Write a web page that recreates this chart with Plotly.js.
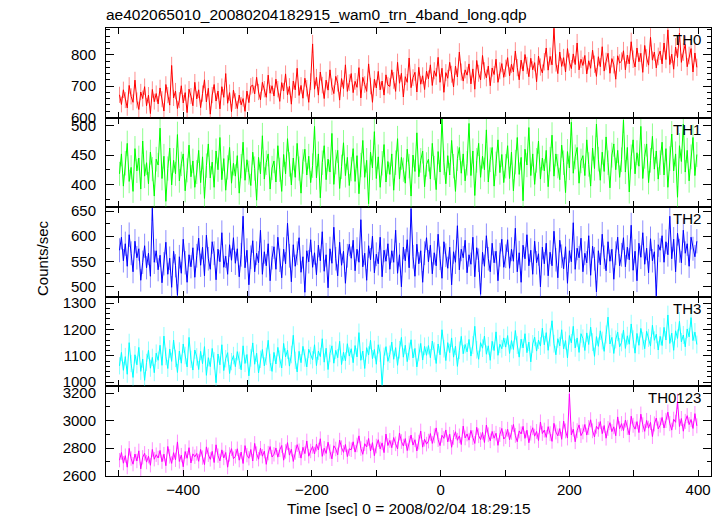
<!DOCTYPE html>
<html>
<head>
<meta charset="utf-8">
<script src="https://cdn.plot.ly/plotly-3.0.1.min.js"></script>
<style>html,body{margin:0;padding:0;background:#fff;}#chart{width:724px;height:516px;}</style>
</head>
<body>
<div id="chart"></div>
<script>
// Time bins: first bin start and bin width (seconds)
const timeStart = -499;
const binWidth = 3;

const bandNames = ["TH0", "TH1", "TH2", "TH3", "TH0123"];

const th0 = [
672,641,688,655,630,702,667,648,719,654,625,681,660,698,637,671,612,689,650,676,
643,694,658,620,705,671,639,766,662,684,628,655,701,646,679,615,690,668,637,712,
659,688,631,676,720,649,693,610,671,705,652,684,627,698,664,740,645,679,618,687,
652,628,671,640,660,619,684,647,699,703,675,728,681,656,712,690,664,735,677,701,
668,722,690,651,711,684,739,672,699,642,716,688,757,670,702,661,725,693,648,714,
835,690,728,671,745,703,660,719,687,752,698,676,731,709,655,724,692,768,683,711,
740,679,715,696,759,662,728,705,683,771,700,648,722,694,747,688,716,671,736,703,
699,752,718,683,776,709,741,665,730,712,790,695,727,744,681,760,706,733,689,748,
723,768,702,749,731,792,712,757,680,743,725,776,738,697,764,729,809,745,716,752,
735,771,707,755,690,782,741,720,798,749,726,764,701,758,737,786,712,749,772,728,
757,791,733,770,745,812,759,720,783,748,801,766,730,789,752,775,714,796,761,742,
778,822,751,795,768,885,774,740,809,763,791,745,820,777,756,803,769,838,752,786,
766,798,739,781,757,815,770,731,794,762,826,748,779,805,741,788,768,722,797,774,
780,813,752,799,771,842,786,761,822,778,805,744,830,790,767,856,783,809,758,795,
812,771,838,785,880,769,802,754,825,791,870,776,809,833,762,798,820,745,806,760
];

const th1 = [
418,452,397,436,470,405,429,388,461,423,445,392,474,414,437,401,455,426,380,443,
433,496,410,448,371,427,462,399,441,418,485,406,435,452,389,424,467,413,440,395,
421,458,403,447,376,432,469,411,438,395,457,425,480,408,444,390,429,463,402,436,
414,449,385,431,472,407,442,420,398,455,427,373,446,418,483,409,437,452,392,428,
440,404,466,425,388,451,418,478,434,399,445,412,470,427,385,439,460,416,448,403,
432,499,411,452,377,437,466,408,443,421,487,400,438,458,393,430,471,415,446,398,
426,461,405,449,384,433,475,412,441,367,455,428,490,410,447,395,436,468,404,439,
417,452,390,437,478,409,446,425,402,460,431,380,450,422,488,413,441,457,396,434,
443,409,470,428,391,456,421,512,437,401,449,416,475,431,388,444,463,419,452,406,
436,504,415,457,381,441,470,412,448,425,493,404,442,463,397,435,476,420,451,403,
431,466,410,455,389,438,480,417,446,372,460,433,497,415,452,400,441,474,409,445,
423,458,396,443,484,414,452,431,408,467,437,386,456,428,506,419,447,463,402,440,
449,415,476,434,397,462,427,503,443,407,455,422,481,437,394,450,469,425,458,412,
442,510,421,463,387,447,476,418,454,431,499,410,448,469,403,441,482,426,457,409,
437,472,416,461,395,444,486,423,452,378,466,439,503,421,458,406,447,480,415,451
];

const th2 = [
572,598,551,585,540,603,566,529,590,557,575,512,548,581,537,566,520,656,548,571,
533,562,507,545,588,524,556,498,570,541,482,559,526,594,547,508,563,539,577,518,
561,596,542,578,521,602,555,534,589,566,513,574,549,607,538,560,524,583,552,597,
546,575,519,563,640,537,572,503,558,591,529,566,547,612,524,569,541,585,511,557,
579,534,598,552,517,574,545,626,561,509,583,540,566,597,528,559,488,571,549,593,
538,567,523,582,551,609,530,563,497,575,546,618,555,521,588,542,570,506,561,584,
556,592,531,574,548,633,539,566,512,581,553,600,527,564,545,598,519,572,550,585,
534,571,548,612,526,563,499,578,551,593,537,655,559,520,584,545,571,508,566,597,
549,582,525,567,541,604,556,516,589,562,536,578,503,569,548,621,533,574,557,592,
527,563,544,598,519,577,552,484,568,540,601,555,529,586,547,570,511,563,594,538,
560,593,536,574,550,616,529,567,508,582,555,603,541,572,524,590,547,565,499,578,
545,586,521,568,541,610,553,517,592,560,535,579,506,571,549,627,534,576,557,596,
529,566,547,601,522,580,555,489,571,543,604,558,531,589,550,574,514,566,598,541,
563,597,539,578,553,622,532,570,511,586,558,607,544,576,527,595,551,569,481,583,
572,601,548,589,563,640,555,594,529,606,571,547,612,566,585,540,598,575,559,590
];

const th3 = [
1062,1113,1045,1097,1030,1150,1071,1018,1104,1066,1132,1041,1088,1007,1075,1121,1053,1094,1036,1110,
1083,1140,1064,1175,1098,1052,1126,1079,1160,1090,1037,1118,1072,1145,1101,1058,1170,1087,1046,1122,
1096,1048,1117,1070,1135,1026,1093,1059,1128,1081,998,1107,1066,1142,1044,1089,1112,1033,1078,1101,
1059,1116,1083,1047,1138,1071,1105,1024,1092,1149,1068,1110,1035,1087,1124,1062,1098,1159,1075,1041,
1113,1069,1132,1088,1054,1147,1096,1122,1061,1105,1178,1083,1039,1117,1074,1136,1092,1058,1125,1101,
1085,1142,1063,1118,1097,1165,1076,1129,1048,1109,1138,1072,1121,1093,1155,1067,1114,1081,1146,1099,
1127,1074,1139,1096,1188,1083,1118,1052,1131,1103,1159,1089,1124,1068,1142,1110,990,1098,1135,1079,
1106,1152,1087,1131,1064,1123,1170,1095,1140,1078,1117,1161,1092,1128,1058,1113,1147,1084,1136,1102,
1139,1093,1156,1118,1071,1145,1104,1199,1127,1082,1150,1112,1168,1095,1137,1060,1121,1174,1108,1143,
1115,1162,1099,1141,1212,1123,1087,1150,1129,1175,1106,1138,1083,1155,1120,1191,1102,1144,1127,1168,
1133,1177,1109,1158,1124,1196,1141,1095,1163,1130,1184,1112,1152,1077,1145,1171,1118,1160,1137,1205,
1142,1188,1121,1170,1233,1146,1104,1165,1138,1199,1126,1158,1092,1177,1149,1212,1130,1168,1113,1184,
1166,1120,1187,1143,1209,1152,1098,1173,1136,1195,1158,1117,1181,1247,1145,1170,1109,1162,1190,1134,
1151,1198,1128,1176,1144,1221,1163,1110,1185,1140,1204,1157,1127,1193,1168,1137,1216,1159,1182,1122,
1174,1139,1208,1160,1255,1147,1186,1121,1195,1166,1231,1153,1179,1134,1202,1172,1245,1158,1190,1143
];

const th0123 = [
2712,2768,2690,2745,2661,2798,2724,2683,2757,2706,2780,2649,2733,2762,2698,2741,2675,2790,2719,2752,
2728,2783,2701,2756,2672,2812,2740,2689,2767,2715,2845,2703,2749,2664,2775,2726,2803,2692,2758,2737,
2761,2704,2790,2731,2680,2809,2752,2718,2776,2695,2824,2745,2707,2787,2728,2768,2661,2754,2796,2723,
2740,2795,2712,2771,2688,2818,2749,2726,2790,2706,2834,2760,2719,2799,2741,2778,2682,2764,2811,2735,
2755,2801,2734,2788,2819,2712,2776,2840,2749,2792,2703,2768,2825,2781,2727,2806,2760,2852,2741,2779,
2812,2757,2829,2786,2868,2740,2799,2761,2843,2775,2722,2817,2794,2751,2858,2803,2769,2826,2738,2795,
2788,2846,2771,2823,2889,2797,2755,2832,2808,2870,2779,2840,2745,2815,2861,2794,2838,2767,2902,2819,
2856,2803,2877,2831,2794,2910,2848,2815,2869,2782,2836,2895,2822,2861,2779,2843,2924,2807,2865,2829,
2851,2906,2834,2889,2947,2862,2818,2893,2871,2932,2845,2901,2806,2878,2919,2857,2889,2826,2960,2874,
2903,2858,2929,2877,2834,2951,2890,2862,2915,2841,2968,2897,2853,2921,2872,2908,2820,2899,2943,2866,
2884,2937,2861,2915,2972,2892,2846,2925,2903,2958,2871,2930,2839,2909,2948,2887,2921,2855,2990,2906,
2931,2878,2956,2905,2849,2980,2917,2889,2942,2864,2997,2925,2873,3195,2896,2938,2846,2927,2969,2891,
2918,2972,2895,2950,3006,2926,2881,2959,2937,2993,2905,2964,2872,2943,2985,2920,2955,2890,3027,2941,
2978,2927,3004,2951,2896,3032,2966,2938,2993,2913,3047,2970,2922,3001,2945,2987,2884,2976,3019,2940,
2967,3023,2946,3001,3062,2978,2931,3010,2988,3140,2957,3015,2923,2994,3036,2971,3008,2943,3051,2962
];

const titleText = "ae402065010_20080204182915_wam0_trn_4band_long.qdp";
const xTitle = "Time [sec] 0 = 2008/02/04 18:29:15";
const yTitle = "Counts/sec";

// panel setup: bottom panel uses x/y, going upward
const series = [th0123, th3, th2, th1, th0];
const names = ["TH0123", "TH3", "TH2", "TH1", "TH0"];
const colors = ["#ff00ff", "#00ffff", "#0000ff", "#00ff00", "#ff0000"];
const errColors = ["rgba(255,0,255,0.45)", "rgba(0,255,255,0.45)", "rgba(0,0,255,0.45)", "rgba(0,255,0,0.45)", "rgba(255,0,0,0.45)"];
const yRanges = [[2597, 3249], [984, 1324], [479, 658], [361, 514], [599, 886]];
const yDticks = [200, 100, 50, 50, 100];
const yMinor = [100, 20, 25, 25, 20];

const FONT = "Liberation Sans, Arial, Helvetica, sans-serif";
const traces = [];
const layout = {
  width: 724, height: 516,
  margin: {l: 106, r: 13, t: 28, b: 40, pad: 0},
  paper_bgcolor: "#ffffff", plot_bgcolor: "#ffffff",
  showlegend: false,
  font: {family: FONT, size: 15, color: "#000"},
  title: {text: titleText, font: {family: FONT, size: 15.5, color: "#000"},
          x: 0, xref: "paper", xanchor: "left", y: 1 - 15 / 516, yref: "container", yanchor: "middle"},
  annotations: []
};

for (let k = 0; k < 5; k++) {
  const sx = k === 0 ? "" : String(k + 1);
  traces.push({
    type: "scatter", mode: "lines",
    y: series[k], x0: timeStart, dx: binWidth,
    xaxis: "x" + sx, yaxis: "y" + sx,
    line: {color: colors[k], width: 1},
    error_y: {type: "sqrt", visible: true, color: errColors[k], thickness: 1, width: 0},
    hoverinfo: "skip"
  });
  const xa = {
    range: [-520, 420], dtick: 200, tick0: 0,
    ticks: "inside", ticklen: 6, tickwidth: 1, tickcolor: "#000",
    minor: {dtick: 100, tick0: 0, ticks: "inside", ticklen: 6, tickwidth: 1, tickcolor: "#000", showgrid: false},
    showline: true, linecolor: "#000", linewidth: 1, mirror: "allticks",
    showgrid: false, zeroline: false,
    anchor: "y" + sx, domain: [0, 1],
    tickfont: {family: FONT, size: 15, color: "#000"}
  };
  if (k === 0) {
    xa.showticklabels = true;
  } else {
    xa.showticklabels = false;
    xa.matches = "x";
  }
  layout["xaxis" + sx] = xa;
  layout["yaxis" + sx] = {
    range: yRanges[k], dtick: yDticks[k], tick0: 0,
    ticks: "inside", ticklen: 8, tickwidth: 1, tickcolor: "#000",
    minor: {dtick: yMinor[k], tick0: 0, ticks: "inside", ticklen: 4, tickwidth: 1, tickcolor: "#000", showgrid: false},
    showline: true, linecolor: "#000", linewidth: 1, mirror: "allticks",
    showgrid: false, zeroline: false,
    anchor: "x" + sx, domain: [k * 0.2, (k + 1) * 0.2],
    tickfont: {family: FONT, size: 15, color: "#000"},
    ticklabelstandoff: 6
  };
  layout.annotations.push({
    text: names[k], showarrow: false,
    xref: "x" + sx + " domain", yref: "y" + sx + " domain",
    x: (703 - 106) / 605, y: 1, xanchor: "right", yanchor: "top", yshift: -1,
    font: {family: FONT, size: 15, color: "#000"}
  });
}

layout.annotations.push({
  text: xTitle, showarrow: false, xref: "paper", yref: "paper",
  x: 0.5, y: -(508 - 476) / 448, xanchor: "center", yanchor: "middle",
  font: {family: FONT, size: 15.5, color: "#000"}
});
layout.annotations.push({
  text: yTitle, showarrow: false, xref: "paper", yref: "paper",
  x: -(106 - 42) / 605, y: 1 - (258 - 28) / 448, xanchor: "center", yanchor: "middle",
  textangle: -90,
  font: {family: FONT, size: 15, color: "#000"}
});

Plotly.newPlot("chart", traces, layout, {staticPlot: true, displayModeBar: false});
</script>
</body>
</html>
